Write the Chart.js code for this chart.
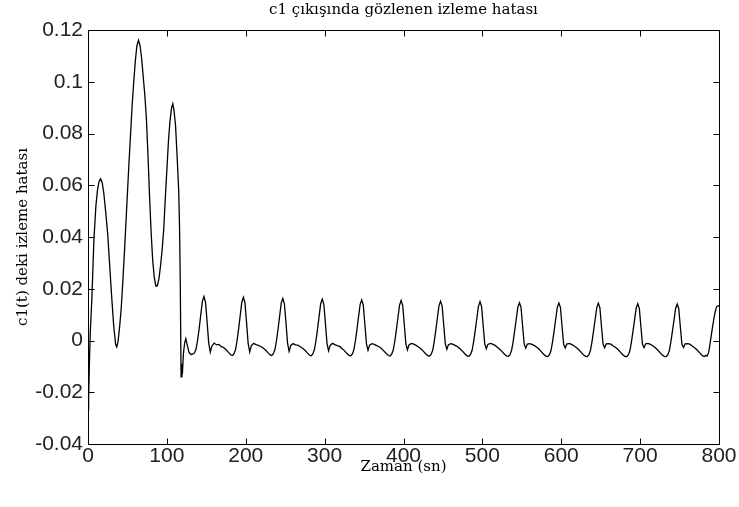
<!DOCTYPE html>
<html>
<head>
<meta charset="utf-8">
<script src="https://cdn.jsdelivr.net/npm/chart.js@4.4.1/dist/chart.umd.min.js"></script>
<style>
  html, body { margin: 0; padding: 0; background: #fff; }
  #kutu { width: 739px; height: 507px; }
</style>
</head>
<body>
<div id="kutu"><canvas id="hataGrafik"></canvas></div>
<script>
// gecis bolgesi (0 - 131 sn)
const zamanGecis = [0, 0.4, 0.8, 1.2, 2, 3, 5, 7.5, 10, 12, 14, 16, 18, 20, 22.5, 25, 27.5, 30, 32.5, 35, 36.5, 38,
  40, 42, 44, 46, 48, 50, 52, 54, 56, 58, 60, 62, 64, 66, 68, 70, 72, 74, 76, 78, 80, 82, 84, 86, 88,
  90, 92, 94, 96, 98, 100, 102, 104, 106, 107.5, 109, 111, 113, 115, 116, 117, 118, 119, 120, 121,
  122.5, 124, 126, 128, 130, 131];
const hataGecis = [-0.006, -0.027, -0.015, -0.022, -0.006, 0.004, 0.017, 0.039, 0.052, 0.058, 0.0615, 0.0625, 0.061, 0.057, 0.0495, 0.041, 0.029, 0.017, 0.006, -0.0015, -0.0025, -0.0005,
  0.005, 0.012, 0.022, 0.033, 0.045, 0.057, 0.069, 0.080, 0.091, 0.100, 0.108, 0.114, 0.116, 0.114, 0.109, 0.102, 0.095, 0.086, 0.072, 0.056, 0.042, 0.031, 0.0245, 0.021, 0.0212,
  0.024, 0.029, 0.035, 0.043, 0.055, 0.066, 0.077, 0.085, 0.090, 0.0915, 0.089, 0.083, 0.071, 0.058, 0.045, 0.022, -0.014, -0.009, -0.011, -0.005,
  -0.001, 0.0007, -0.002, -0.0045, -0.0053, -0.0054];

// periyodik bolge (133 - 800 sn), her satir bir tepe
const zamanDuzenli = [
  133, 135, 137, 139, 141, 143, 145, 147, 149, 151, 153, 155, 157, 160, 163, 166, 169, 172, 175, 178, 181,
  183, 185, 187, 189, 191, 193, 195, 197, 199, 201, 203, 205, 207, 210, 213, 216, 219, 222, 225, 228, 231,
  233, 235, 237, 239, 241, 243, 245, 247, 249, 251, 253, 255, 257, 260, 263, 266, 269, 272, 275, 278, 281,
  283, 285, 287, 289, 291, 293, 295, 297, 299, 301, 303, 305, 307, 310, 313, 316, 319, 322, 325, 328, 331,
  333, 335, 337, 339, 341, 343, 345, 347, 349, 351, 353, 355, 357, 360, 363, 366, 369, 372, 375, 378, 381,
  383, 385, 387, 389, 391, 393, 395, 397, 399, 401, 403, 405, 407, 410, 413, 416, 419, 422, 425, 428, 431,
  433, 435, 437, 439, 441, 443, 445, 447, 449, 451, 453, 455, 457, 460, 463, 466, 469, 472, 475, 478, 481,
  483, 485, 487, 489, 491, 493, 495, 497, 499, 501, 503, 505, 507, 510, 513, 516, 519, 522, 525, 528, 531,
  533, 535, 537, 539, 541, 543, 545, 547, 549, 551, 553, 555, 557, 560, 563, 566, 569, 572, 575, 578, 581,
  583, 585, 587, 589, 591, 593, 595, 597, 599, 601, 603, 605, 607, 610, 613, 616, 619, 622, 625, 628, 631,
  633, 635, 637, 639, 641, 643, 645, 647, 649, 651, 653, 655, 657, 660, 663, 666, 669, 672, 675, 678, 681,
  683, 685, 687, 689, 691, 693, 695, 697, 699, 701, 703, 705, 707, 710, 713, 716, 719, 722, 725, 728, 731,
  733, 735, 737, 739, 741, 743, 745, 747, 749, 751, 753, 755, 757, 760, 763, 766, 769, 772, 775, 778, 781,
  783, 785, 787, 789, 791, 793, 795, 797, 799, 800
];
const hataDuzenli = [
  -0.0052, -0.0048, -0.0033, 0.0002, 0.0048, 0.0100, 0.0152, 0.0170, 0.0148, 0.0072, -0.0008, -0.0045, -0.0022, -0.0010, -0.0017, -0.0015, -0.0024, -0.0027, -0.0036, -0.0046, -0.0055,
  -0.0058, -0.0052, -0.0036, 0.0000, 0.0046, 0.0097, 0.0148, 0.0167, 0.0146, 0.0070, -0.0010, -0.0044, -0.0021, -0.0011, -0.0016, -0.0019, -0.0023, -0.0029, -0.0037, -0.0047, -0.0056,
  -0.0058, -0.0051, -0.0035, 0.0000, 0.0045, 0.0095, 0.0145, 0.0163, 0.0142, 0.0068, -0.0010, -0.0042, -0.0020, -0.0012, -0.0017, -0.0018, -0.0024, -0.0030, -0.0038, -0.0048, -0.0057,
  -0.0059, -0.0052, -0.0036, -0.0001, 0.0044, 0.0093, 0.0142, 0.0160, 0.0140, 0.0066, -0.0011, -0.0040, -0.0019, -0.0011, -0.0016, -0.0020, -0.0023, -0.0031, -0.0039, -0.0049, -0.0058,
  -0.0059, -0.0053, -0.0037, -0.0002, 0.0043, 0.0091, 0.0139, 0.0157, 0.0137, 0.0064, -0.0012, -0.0038, -0.0018, -0.0012, -0.0015, -0.0020, -0.0024, -0.0031, -0.0040, -0.0050, -0.0058,
  -0.0060, -0.0053, -0.0037, -0.0002, 0.0042, 0.0090, 0.0137, 0.0155, 0.0135, 0.0062, -0.0012, -0.0036, -0.0017, -0.0011, -0.0014, -0.0019, -0.0025, -0.0032, -0.0041, -0.0051, -0.0059,
  -0.0060, -0.0054, -0.0038, -0.0003, 0.0041, 0.0088, 0.0135, 0.0152, 0.0133, 0.0060, -0.0013, -0.0034, -0.0016, -0.0012, -0.0015, -0.0020, -0.0025, -0.0033, -0.0042, -0.0052, -0.0060,
  -0.0061, -0.0054, -0.0038, -0.0003, 0.0040, 0.0086, 0.0132, 0.0150, 0.0131, 0.0058, -0.0013, -0.0032, -0.0015, -0.0011, -0.0014, -0.0019, -0.0026, -0.0034, -0.0043, -0.0053, -0.0060,
  -0.0061, -0.0055, -0.0039, -0.0004, 0.0039, 0.0084, 0.0129, 0.0146, 0.0128, 0.0056, -0.0014, -0.0030, -0.0014, -0.0012, -0.0015, -0.0020, -0.0026, -0.0034, -0.0044, -0.0054, -0.0061,
  -0.0062, -0.0055, -0.0039, -0.0004, 0.0038, 0.0083, 0.0128, 0.0145, 0.0127, 0.0055, -0.0014, -0.0029, -0.0014, -0.0011, -0.0015, -0.0020, -0.0027, -0.0035, -0.0045, -0.0055, -0.0061,
  -0.0062, -0.0055, -0.0039, -0.0004, 0.0038, 0.0082, 0.0127, 0.0144, 0.0126, 0.0054, -0.0014, -0.0028, -0.0013, -0.0012, -0.0014, -0.0021, -0.0027, -0.0035, -0.0045, -0.0055, -0.0062,
  -0.0062, -0.0056, -0.0040, -0.0005, 0.0037, 0.0081, 0.0125, 0.0142, 0.0124, 0.0053, -0.0015, -0.0028, -0.0013, -0.0011, -0.0015, -0.0020, -0.0027, -0.0036, -0.0046, -0.0056, -0.0062,
  -0.0062, -0.0056, -0.0040, -0.0005, 0.0037, 0.0080, 0.0124, 0.0141, 0.0123, 0.0052, -0.0015, -0.0027, -0.0013, -0.0012, -0.0014, -0.0021, -0.0028, -0.0036, -0.0046, -0.0056, -0.0062,
  -0.0058, -0.0060, -0.0045, -0.0005, 0.0036, 0.0075, 0.0110, 0.0131, 0.0134, 0.0135
];

const xTikler = [0, 100, 200, 300, 400, 500, 600, 700, 800];
const xEtiketler = ['0', '100', '200', '300', '400', '500', '600', '700', '800'];
const yTikler = [-0.04, -0.02, 0, 0.02, 0.04, 0.06, 0.08, 0.1, 0.12];
const yEtiketler = ['-0.04', '-0.02', '0', '0.02', '0.04', '0.06', '0.08', '0.1', '0.12'];

const zaman = zamanGecis.concat(zamanDuzenli);
const hata = hataGecis.concat(hataDuzenli);
const noktalar = zaman.map((t, i) => ({ x: t, y: hata[i] }));

const serif = { family: 'DejaVu Serif', size: 15, weight: 'normal' };
const sans = { family: 'Liberation Sans', size: 21 };

// MATLAB tarzi: cerceve ve ice bakan tikler
const cerceve = {
  id: 'cerceve',
  afterDatasetsDraw(chart) {
    const { ctx, chartArea: a, scales: { x, y } } = chart;
    const L = Math.round(a.left) + 0.5, R = Math.round(a.right) + 0.5;
    const T = Math.round(a.top) + 0.5, B = Math.round(a.bottom) + 0.5;
    ctx.save();
    ctx.strokeStyle = '#000';
    ctx.lineWidth = 1;
    ctx.beginPath();
    ctx.rect(L, T, R - L, B - T);
    x.ticks.forEach(t => {
      const px = Math.round(x.getPixelForValue(t.value)) + 0.5;
      ctx.moveTo(px, B); ctx.lineTo(px, B - 6);
      ctx.moveTo(px, T); ctx.lineTo(px, T + 6);
    });
    y.ticks.forEach(t => {
      const py = Math.round(y.getPixelForValue(t.value)) + 0.5;
      ctx.moveTo(L, py); ctx.lineTo(L + 6, py);
      ctx.moveTo(R, py); ctx.lineTo(R - 6, py);
    });
    ctx.stroke();
    ctx.restore();
  }
};

const ctx = document.getElementById('hataGrafik').getContext('2d');
const chart = new Chart(ctx, {
  type: 'line',
  data: {
    datasets: [{
      label: 'c1 izleme hatası',
      data: noktalar,
      xAxisID: 'x',
      yAxisID: 'y',
      borderColor: '#000',
      borderWidth: 1.3,
      pointRadius: 0,
      tension: 0,
      fill: false,
    }],
  },
  options: {
    responsive: true,
    maintainAspectRatio: false,
    animation: false,
    layout: { padding: { left: 0, right: 20, top: 0, bottom: 0 } },
    plugins: {
      legend: { display: false },
      tooltip: { enabled: false },
      title: { display: false },
    },
    scales: {
      x: {
        type: 'linear',
        position: 'bottom',
        min: 0,
        max: 800,
        afterBuildTicks: s => { s.ticks = xTikler.map(v => ({ value: v })); },
        afterFit: s => { s.height = 63; },
        grid: { display: false, drawTicks: false },
        border: { display: false },
        ticks: {
          padding: 0,
          color: '#222',
          font: sans,
          callback: (v, i) => xEtiketler[i],
        },
        title: {
          display: true,
          text: 'Zaman (sn)',
          color: '#000',
          font: serif,
          padding: { top: 0, bottom: 31 },
        },
      },
      // ust eksen sadece baslik icin (grafik alani ortasina hizali)
      baslik: {
        type: 'linear',
        axis: 'x',
        position: 'top',
        min: 0,
        max: 800,
        afterFit: s => { s.height = 30; },
        grid: { display: false, drawTicks: false },
        border: { display: false },
        ticks: { display: false },
        title: {
          display: true,
          text: 'c1 çıkışında gözlenen izleme hatası',
          color: '#000',
          font: serif,
          padding: { top: 1, bottom: 0 },
        },
      },
      y: {
        type: 'linear',
        min: -0.04,
        max: 0.12,
        afterBuildTicks: s => { s.ticks = yTikler.map(v => ({ value: v })); },
        afterFit: s => { s.width = 88; },
        grid: { display: false, drawTicks: false },
        border: { display: false },
        ticks: {
          padding: 5,
          color: '#222',
          font: sans,
          callback: (v, i) => yEtiketler[i],
        },
        title: {
          display: true,
          text: 'c1(t) deki izleme hatası',
          color: '#000',
          font: serif,
          padding: { top: 14, bottom: 0 },
        },
      },
    },
  },
  plugins: [cerceve],
});
</script>
</body>
</html>
